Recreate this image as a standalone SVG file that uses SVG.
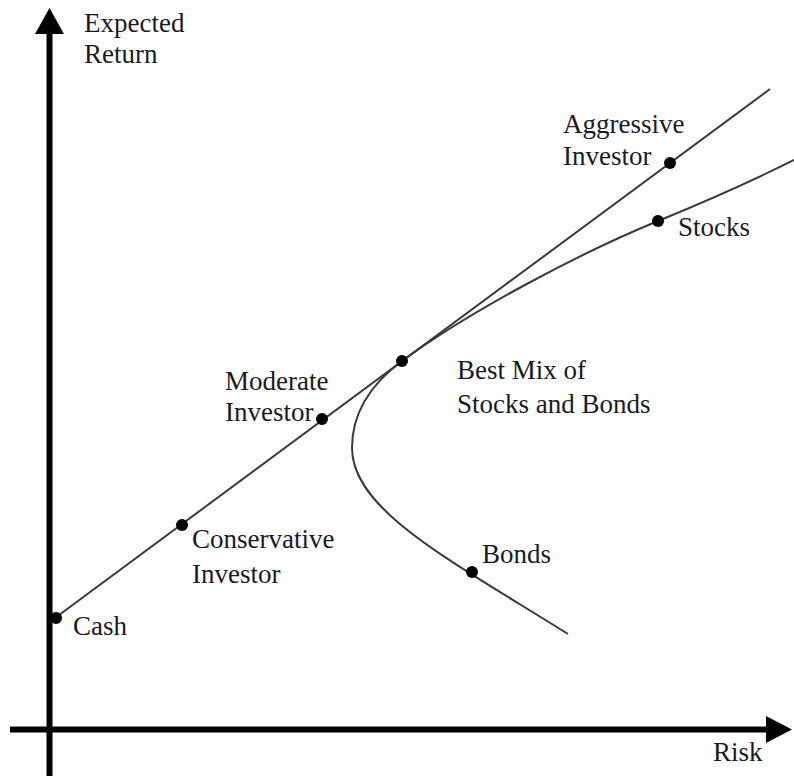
<svg xmlns="http://www.w3.org/2000/svg" width="794" height="776" viewBox="0 0 794 776">
<style>
text{font-family:"Liberation Serif","Times New Roman",serif;font-size:27px;fill:#1a1a24}
.ln{fill:none;stroke:#3a3a3a;stroke-width:2}
.ax{stroke:#000;stroke-width:6}
.dot{fill:#000}
</style>
<rect width="794" height="776" fill="#fff"/>
<g id="axes">
<line class="ax" x1="49.5" y1="30" x2="49.5" y2="776"/>
<polygon points="49.5,8 35,34 64,34"/>
<line class="ax" x1="10" y1="729.5" x2="770" y2="729.5"/>
<polygon points="792,729.5 766,716 766,743"/>
<text x="84" y="32">Expected</text>
<text x="84" y="63">Return</text>
<text x="713" y="761">Risk</text>
</g>
<g id="connectors">
<line class="ln" x1="55" y1="618" x2="770" y2="89"/>
<path class="ln" d="M568,634 C450,560 352,510 352,448 C352,410 375,381 402,361 C470,311 580,253 658,221 C736,189 770,172 794,160"/>
</g>
<g id="cash"><circle class="dot" cx="56" cy="618" r="6"/><text x="73" y="635">Cash</text></g>
<g id="conservative"><circle class="dot" cx="182" cy="525" r="6"/><text x="192" y="548">Conservative</text><text x="192" y="583">Investor</text></g>
<g id="moderate"><circle class="dot" cx="322" cy="419" r="6"/><text x="225" y="390">Moderate</text><text x="225" y="421">Investor</text></g>
<g id="bestmix"><circle class="dot" cx="402" cy="361" r="6"/><text x="457" y="379">Best Mix of</text><text x="457" y="413">Stocks and Bonds</text></g>
<g id="aggressive"><circle class="dot" cx="670" cy="163" r="6"/><text x="563" y="133">Aggressive</text><text x="563" y="165">Investor</text></g>
<g id="stocks"><circle class="dot" cx="658" cy="221" r="6"/><text x="678" y="236">Stocks</text></g>
<g id="bonds"><circle class="dot" cx="472" cy="572" r="6"/><text x="482" y="563">Bonds</text></g>
</svg>
